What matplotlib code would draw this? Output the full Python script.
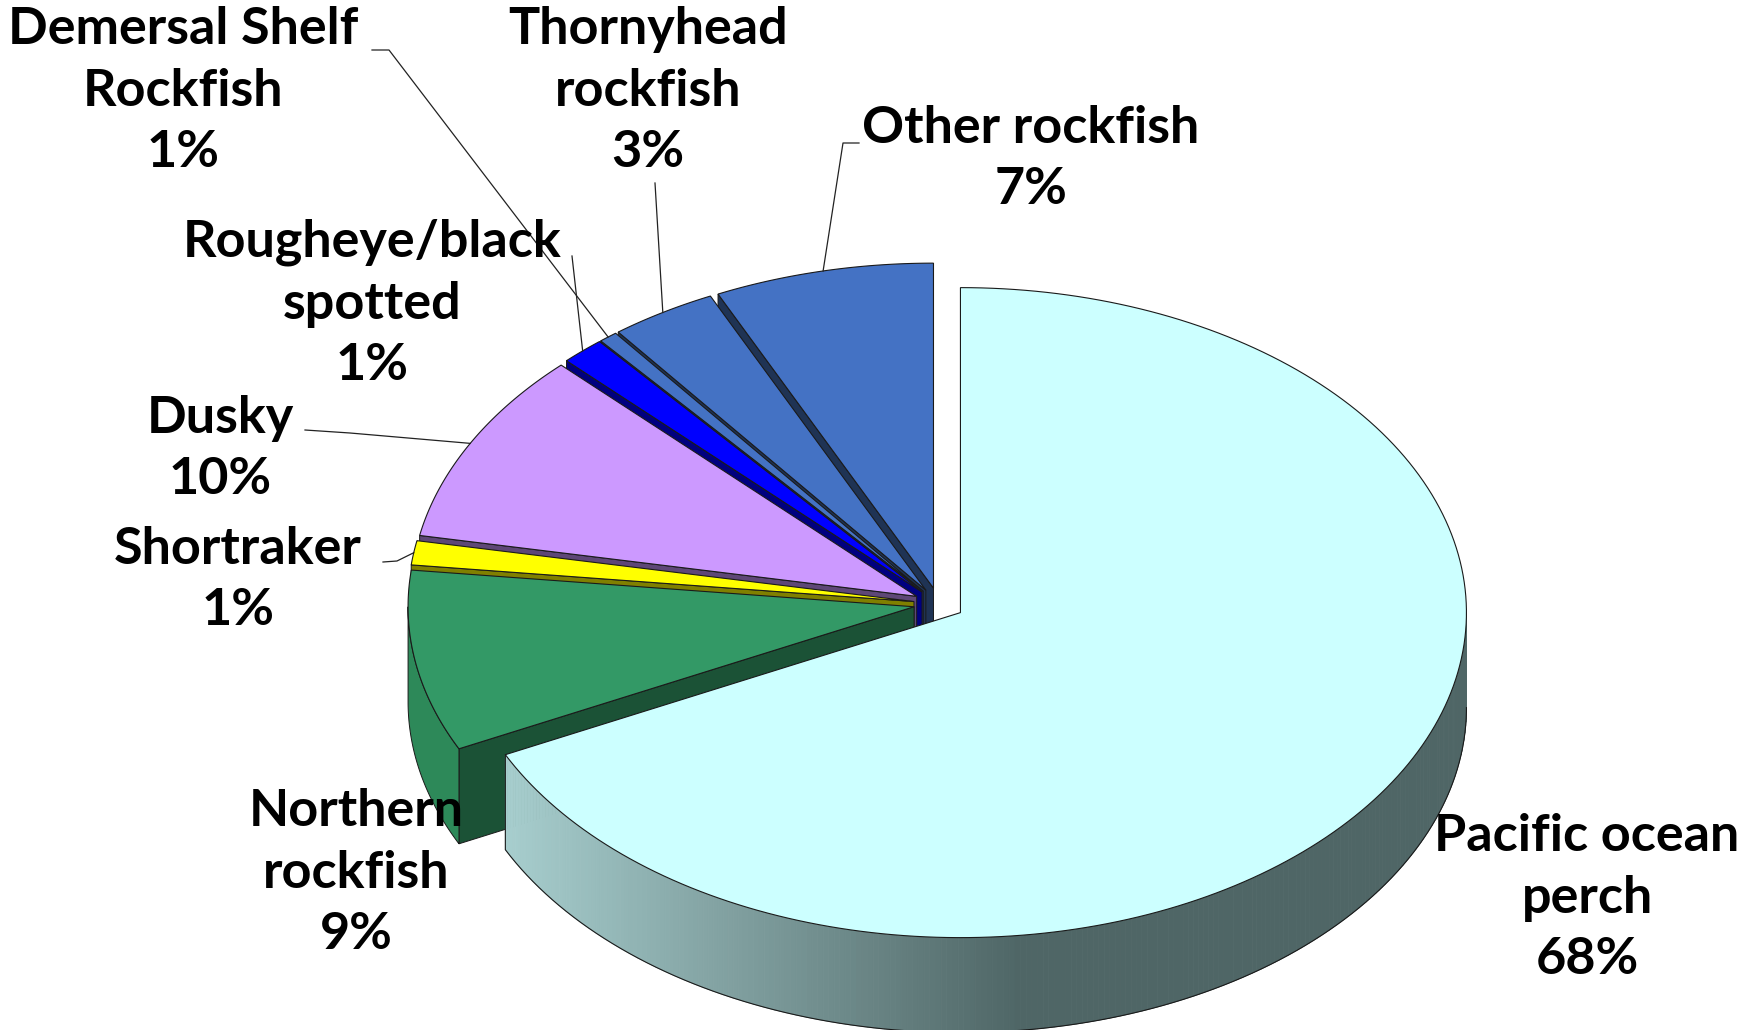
import numpy as np
import matplotlib.pyplot as plt
from matplotlib.patches import Polygon
from matplotlib.colors import to_rgb

# catch share by species group (%), drawn clockwise from 12 o'clock
species = ['Pacific ocean\nperch', 'Northern\nrockfish', 'Shortraker', 'Dusky',
           'Rougheye/black\nspotted', 'Demersal Shelf\nRockfish',
           'Thornyhead\nrockfish', 'Other rockfish']
shares = [67.8, 9.0, 1.2, 9.6, 1.4, 0.6, 3.4, 7.0]

top_colors = ['#CCFFFF', '#339966', '#FFFF00', '#CC99FF', '#0000FF', '#4472C4', '#4472C4', '#4472C4']
face_colors = ['#7FA3A3', '#1B5236', '#808000', '#5E4777', '#000080', '#1F3354', '#1F3354', '#1F3354']
wall_colors = ['#4F6666', '#2D8959', '#B3B300', '#8F6BB3', '#0000B3', '#2F508A', '#2F508A', '#2F508A']

# layout (pixels)
label_xy = [(1587, 898), (356, 873), (238, 580), (220, 449),
            (372, 304), (183, 91), (648, 91), (1031, 159)]
leader_pts = [[], [], [(383, 562), (397, 561)], [(305, 430), (350, 433)],
              [(572, 256)], [(372, 50), (389, 50)], [(655, 183)], [(859, 143), (843, 143)]]

CX, CY = 939, 604
RX, RY = 506, 325
DEPTH = 95
EXPLODE = 0.05


def proj(u, v, z=0.0):
    return CX + RX * np.asarray(u), CY - RY * np.asarray(v) + DEPTH * z


fig = plt.figure(figsize=(17.42, 10.30), dpi=100)
ax = fig.add_axes([0, 0, 1, 1])
ax.set_xlim(0, 1742)
ax.set_ylim(1030, 0)
ax.axis('off')

vals = np.array(shares) / np.sum(shares) * 360
ends = 90 - np.concatenate([[0], np.cumsum(vals)[:-1]])
starts = ends - vals
starts = np.where(starts < -90, starts + 360, starts)
ends = starts + vals

sides = []   # (depth key, kind, data, colour)
tops = []
for i in range(len(shares)):
    t1, t2 = np.radians(starts[i]), np.radians(ends[i])
    mid = (t1 + t2) / 2
    ox, oy = EXPLODE * np.cos(mid), EXPLODE * np.sin(mid)
    t = np.linspace(t1, t2, 200)
    xs, ys = proj(ox + np.cos(t), oy + np.sin(t))
    ax_, ay_ = proj(ox, oy)
    tops.append((np.column_stack([np.r_[ax_, xs], np.r_[ay_, ys]]), top_colors[i]))

    # radial faces that face the viewer
    for ang, sign in ((t2, -1), (t1, 1)):
        if sign * np.cos(ang) > 1e-6:
            u, v = ox + np.cos(ang), oy + np.sin(ang)
            x0, y0 = proj(ox, oy)
            x1, y1 = proj(u, v)
            x2, y2 = proj(u, v, 1)
            x3, y3 = proj(ox, oy, 1)
            pts = [(x0, y0), (x1, y1), (x2, y2), (x3, y3)]
            sides.append((oy + 0.5 * np.sin(ang), 'face', pts, face_colors[i]))

    # outer wall, front half only
    for k in (-1, 0, 1):
        lo = max(starts[i], 180 + 360 * k)
        hi = min(ends[i], 360 + 360 * k)
        if hi > lo:
            sides.append((oy - 1.0 + (0.5 if i else 0), 'wall',
                          (np.radians(lo), np.radians(hi), ox, oy, i), wall_colors[i]))

sides.sort(key=lambda s: -s[0])
pop_light, pop_dark = np.array(to_rgb('#A8CFCF')), np.array(to_rgb('#4F6666'))
for key, kind, data, col in sides:
    if kind == 'face':
        ax.add_patch(Polygon(data, closed=True, fc=col, ec='#1a1a1a', lw=0.7))
        continue
    lo, hi, ox, oy, i = data
    t = np.linspace(lo, hi, 240)
    xt, yt = proj(ox + np.cos(t), oy + np.sin(t))
    xb, yb = proj(ox + np.cos(t), oy + np.sin(t), 1)
    if i == 0:
        # shaded wall of the big slice
        for j in range(len(t) - 1):
            xm = (xt[j] + xt[j + 1]) / 2
            f = np.clip((xm - 500) / 520, 0, 1)
            c = pop_light * (1 - f) + pop_dark * f
            ax.add_patch(Polygon([(xt[j], yt[j]), (xt[j + 1], yt[j + 1]),
                                  (xb[j + 1], yb[j + 1]), (xb[j], yb[j])],
                                 closed=True, fc=c, ec=c, lw=0.6))
        ax.plot(np.r_[xt[0], xb], np.r_[yt[0], yb], color='#1a1a1a', lw=0.8)
    else:
        ax.add_patch(Polygon(np.column_stack([np.r_[xt, xb[::-1]], np.r_[yt, yb[::-1]]]),
                             closed=True, fc=col, ec='#1a1a1a', lw=0.7))

for pts, col in tops:
    ax.add_patch(Polygon(pts, closed=True, fc=col, ec='#1a1a1a', lw=0.8))

# labels and leader lines
for i, name in enumerate(species):
    ax.text(label_xy[i][0], label_xy[i][1], f'{name}\n{shares[i]:.0f}%',
            ha='center', va='center', fontsize=37.5, fontweight='bold',
            family=['Lato', 'DejaVu Sans'], linespacing=1.38)
    if leader_pts[i]:
        mid = np.radians((starts[i] + ends[i]) / 2)
        ox, oy = EXPLODE * np.cos(mid), EXPLODE * np.sin(mid)
        ex, ey = proj(ox + np.cos(mid), oy + np.sin(mid))
        px = [p[0] for p in leader_pts[i]] + [ex]
        py = [p[1] for p in leader_pts[i]] + [ey]
        ax.plot(px, py, color='#222222', lw=0.9)

fig.savefig('out.png', dpi=100, facecolor='white')
